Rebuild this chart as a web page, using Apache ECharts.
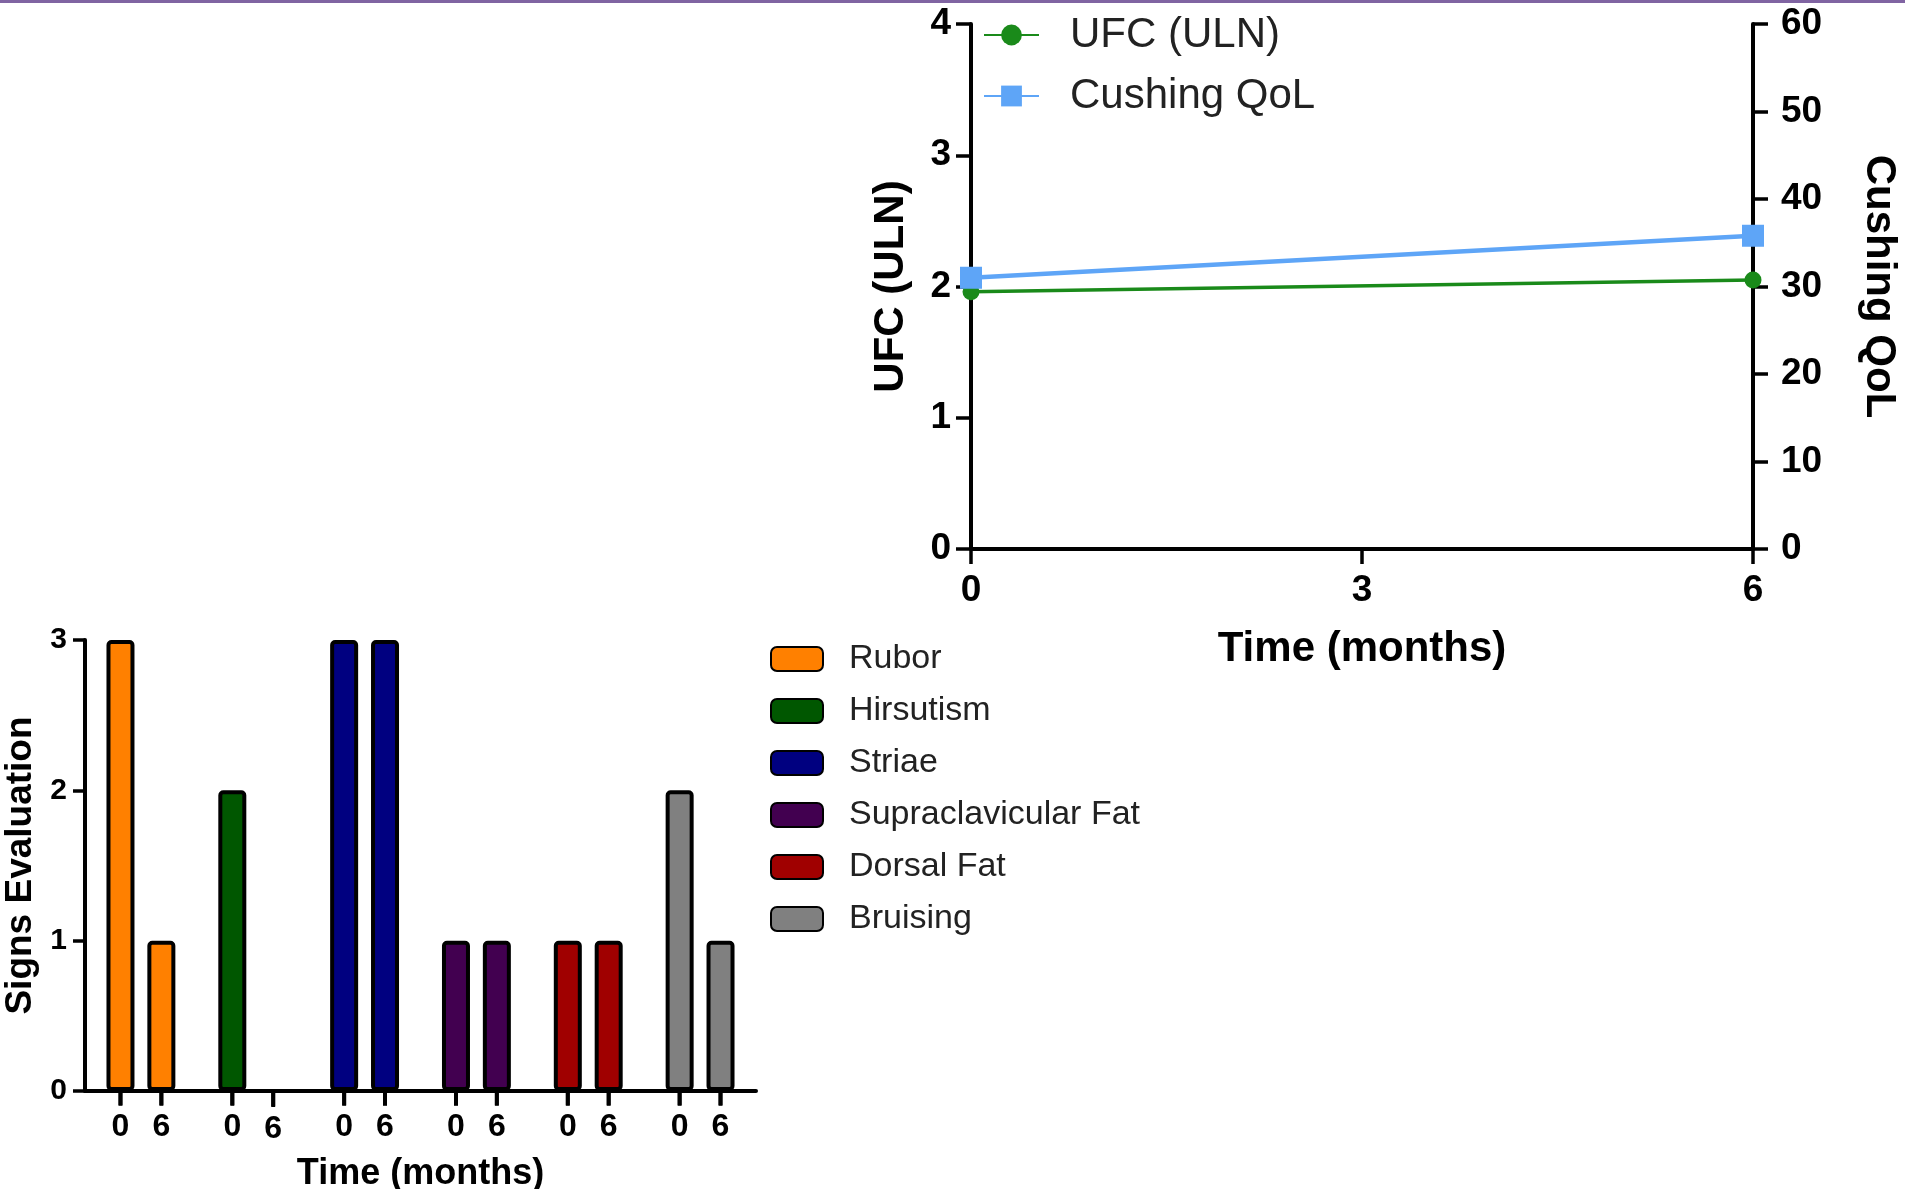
<!DOCTYPE html>
<html>
<head>
<meta charset="utf-8">
<script src="https://cdn.jsdelivr.net/npm/echarts@6/dist/echarts.min.js"></script>
<style>
html, body { margin: 0; padding: 0; background: #fff; }
#chart { width: 1905px; height: 1189px; }
</style>
</head>
<body>
<div id="chart"></div>
<script>
// top panel: UFC and QoL over time
var timePoints = [0, 6];
var ufcValues = [1.96, 2.05];
var qolValues = [31.0, 35.8];

// bottom panel: sign scores at month 0 and month 6
var signs = ['Rubor', 'Hirsutism', 'Striae', 'Supraclavicular Fat', 'Dorsal Fat', 'Bruising'];
var signColors = ['#ff8000', '#005700', '#000080', '#420050', '#a00000', '#808080'];
var month0 = [3, 2, 3, 1, 1, 2];
var month6 = [1, 0, 3, 1, 1, 1];
var monthLabels = ['0', '6'];

var FONT = 'Liberation Sans, Arial, sans-serif';
var NARROW = 'Liberation Sans Narrow, Arial Narrow, Liberation Sans, Arial, sans-serif';

var BAR_W = 28;
var BAR_GAP = 0.46;
var slotShift = BAR_W * (1 + BAR_GAP) / 2; // half the distance between the two bars of a group

var myChart = echarts.init(document.getElementById('chart'));

function axisStyle(tickLen) {
  return {
    axisLine: { show: true, lineStyle: { color: '#000', width: 4 } },
    axisTick: { show: true, length: tickLen, lineStyle: { color: '#000', width: 3.5 } },
    splitLine: { show: false }
  };
}

// one bar series per sign and month, stacked by month so each category has two slots
var barSeries = [];
signs.forEach(function (name, i) {
  [month0, month6].forEach(function (vals, m) {
    barSeries.push({
      name: name,
      type: 'bar',
      xAxisIndex: 1,
      yAxisIndex: 2,
      stack: 'm' + m,
      barWidth: BAR_W,
      barGap: (BAR_GAP * 100) + '%',
      data: signs.map(function (s, j) { return j === i ? vals[j] : '-'; }),
      itemStyle: { color: signColors[i], borderColor: '#000', borderWidth: 4, borderRadius: 3 },
      label: {
        show: true,
        position: 'bottom',
        distance: 0,
        formatter: '{t| }\n{n|' + monthLabels[m] + '}',
        rich: {
          t: { width: 4, height: 14, backgroundColor: '#000' },
          n: { fontSize: 32, lineHeight: 44, fontWeight: 'bold', color: '#000', fontFamily: NARROW }
        }
      },
      emphasis: { disabled: true }
    });
  });
});

// small tick under each bar, drawn at the axis base
var tickSeries = monthLabels.map(function (lab, m) {
  return {
    name: signs[0],
    type: 'scatter',
    xAxisIndex: 1,
    yAxisIndex: 2,
    data: signs.map(function (s) { return [s, 0]; }),
    symbol: 'rect',
    symbolSize: [4, 15],
    symbolOffset: [m === 0 ? -slotShift : slotShift, 7.5],
    itemStyle: { color: '#000' },
    clip: false,
    silent: true,
    z: 10
  };
});

var option = {
  animation: false,
  textStyle: { fontFamily: FONT, color: '#000' },
  graphic: [{
    type: 'rect',
    shape: { x: 0, y: 0, width: 1905, height: 3 },
    style: { fill: '#8064a2' }
  }],
  grid: [
    { left: 971, top: 24, width: 782, height: 525, outerBoundsMode: 'none' },
    { left: 85, top: 640, width: 671, height: 451, outerBoundsMode: 'none' }
  ],
  legend: [{
    orient: 'vertical',
    left: 978,
    top: 9,
    itemWidth: 55,
    itemHeight: 26,
    itemGap: 19,
    data: ['UFC (ULN)', 'Cushing QoL'],
    textStyle: { fontSize: 42, lineHeight: 42, color: '#222', padding: [0, 0, 0, 26] }
  }, {
    orient: 'vertical',
    left: 765,
    top: 628,
    icon: 'roundRect',
    itemWidth: 52,
    itemHeight: 24,
    itemGap: 0,
    data: signs,
    textStyle: { fontSize: 34, lineHeight: 52, color: '#222', padding: [0, 0, 0, 21] }
  }],
  xAxis: [
    Object.assign(axisStyle(15), {
      type: 'value',
      gridIndex: 0,
      min: 0,
      max: 6,
      interval: 3,
      axisLabel: { fontSize: 37, fontWeight: 'bold', margin: 23, color: '#000' },
      name: 'Time (months)',
      nameLocation: 'middle',
      nameGap: 79,
      nameTextStyle: { fontSize: 42, fontWeight: 'bold', color: '#000' }
    }),
    Object.assign(axisStyle(12), {
      type: 'category',
      gridIndex: 1,
      data: signs,
      axisTick: { show: false },
      axisLabel: { show: false },
      name: 'Time (months)',
      nameLocation: 'middle',
      nameGap: 65,
      nameTextStyle: { fontSize: 36, fontWeight: 'bold', color: '#000' }
    })
  ],
  yAxis: [
    Object.assign(axisStyle(15), {
      type: 'value',
      gridIndex: 0,
      min: 0,
      max: 4,
      interval: 1,
      axisLabel: { fontSize: 37, fontWeight: 'bold', margin: 20, color: '#000' },
      name: 'UFC (ULN)',
      nameLocation: 'middle',
      nameRotate: 90,
      nameGap: 59,
      nameTextStyle: { fontSize: 42, fontWeight: 'bold', color: '#000' }
    }),
    Object.assign(axisStyle(15), {
      type: 'value',
      gridIndex: 0,
      position: 'right',
      min: 0,
      max: 60,
      interval: 10,
      axisLabel: { fontSize: 37, fontWeight: 'bold', margin: 28, color: '#000' },
      name: 'Cushing QoL',
      nameLocation: 'middle',
      nameRotate: -90,
      nameGap: 105,
      nameTextStyle: { fontSize: 42, fontWeight: 'bold', color: '#000' }
    }),
    Object.assign(axisStyle(12), {
      type: 'value',
      gridIndex: 1,
      min: 0,
      max: 3,
      interval: 1,
      axisLabel: { fontSize: 30, fontWeight: 'bold', margin: 18, color: '#000', fontFamily: NARROW },
      name: 'Signs Evaluation',
      nameLocation: 'middle',
      nameRotate: 90,
      nameGap: 46,
      nameTextStyle: { fontSize: 37, fontWeight: 'bold', color: '#000' }
    })
  ],
  series: [{
    name: 'UFC (ULN)',
    type: 'line',
    xAxisIndex: 0,
    yAxisIndex: 0,
    data: timePoints.map(function (t, i) { return [t, ufcValues[i]]; }),
    symbol: 'circle',
    symbolSize: 17,
    color: '#1a8a1a',
    lineStyle: { width: 3.5, color: '#1a8a1a' },
    itemStyle: { color: '#1a8a1a' },
    z: 3
  }, {
    name: 'Cushing QoL',
    type: 'line',
    xAxisIndex: 0,
    yAxisIndex: 1,
    data: timePoints.map(function (t, i) { return [t, qolValues[i]]; }),
    symbol: 'rect',
    symbolSize: 22,
    color: '#5ea5f7',
    lineStyle: { width: 4.5, color: '#5ea5f7' },
    itemStyle: { color: '#5ea5f7' },
    z: 4
  }].concat(barSeries, tickSeries)
};

myChart.setOption(option);
</script>
</body>
</html>
